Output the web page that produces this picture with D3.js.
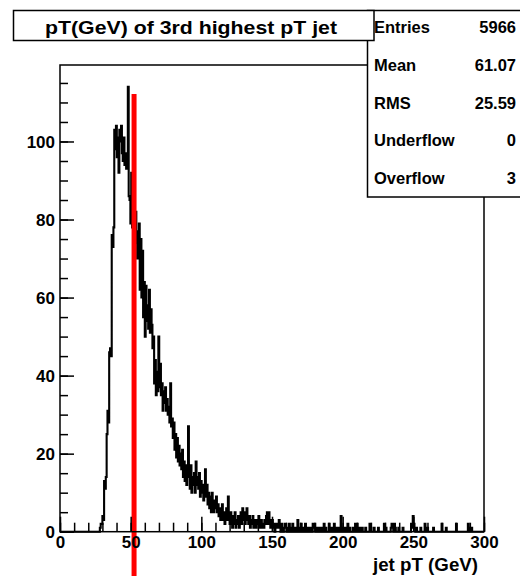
<!DOCTYPE html>
<html>
<head>
<meta charset="utf-8">
<script src="https://cdn.jsdelivr.net/npm/d3@7"></script>
<style>
  html, body { margin: 0; padding: 0; background: #fff; }
  svg { display: block; }
  text { font-family: "Liberation Sans", Arial, Helvetica, sans-serif; font-weight: bold; fill: #000; }
</style>
</head>
<body>
<svg id="chart" width="520" height="576"></svg>
<script>
// Histogram of the 3rd highest jet pT: 500 bins from 0 to 300 GeV
const xRange = [0, 300];
const binCounts = [
  0,0,0,0,0,0,0,0,0,0,
  0,0,0,0,0,0,0,0,0,0,
  0,0,0,0,0,0,0,0,0,0,
  0,0,0,0,0,0,0,0,0,0,
  0,0,0,0,0,0,0,1,2,2,
  4,3,13,11,14,25,31,28,46,47,
  45,76,73,78,103,98,104,96,101,92,
  103,100,104,97,95,101,94,97,93,96,
  114,86,85,79,92,78,84,80,75,82,
  74,70,77,79,62,75,60,72,55,64,
  50,63,54,58,52,62,51,57,53,47,
  50,38,44,35,41,36,50,37,43,35,
  38,31,36,33,37,31,34,30,32,28,
  38,27,29,24,28,21,25,19,24,18,
  22,17,20,16,21,14,18,13,17,12,
  16,27,14,11,17,10,14,12,15,10,
  18,12,14,11,15,9,13,10,12,8,
  11,16,9,12,7,10,6,9,5,10,
  7,5,8,6,9,5,7,4,6,3,
  5,7,3,5,2,4,6,3,9,4,
  2,5,3,1,4,2,5,1,3,2,
  4,1,3,5,2,6,3,5,2,4,
  6,3,2,4,1,3,2,4,1,3,
  2,1,3,2,4,1,2,3,1,2,
  1,3,2,4,5,2,5,3,1,2,
  3,1,2,0,1,2,1,2,3,1,
  0,2,1,0,1,2,1,0,1,0,
  2,1,0,1,2,0,1,0,1,0,
  3,1,0,1,2,0,1,1,0,2,
  0,1,0,1,0,0,1,0,2,1,
  2,0,1,0,0,1,0,0,1,0,
  0,2,0,1,0,0,0,2,1,0,
  1,0,0,2,0,1,0,0,1,0,
  0,4,0,1,0,0,1,0,0,2,
  0,1,0,0,0,1,0,0,2,0,
  2,0,0,1,0,0,1,0,0,0,
  1,0,0,0,0,2,1,0,0,0,
  1,0,0,0,0,1,0,0,0,0,
  0,0,2,0,1,0,0,0,0,0,
  1,2,1,0,2,1,0,0,0,1,
  0,0,0,0,1,0,0,0,0,0,
  0,0,0,0,2,1,4,2,1,0,
  1,0,0,0,0,1,0,0,0,0,
  2,1,0,1,0,0,0,0,0,0,
  1,0,0,0,0,0,0,0,0,0,
  2,0,0,0,0,1,0,0,0,0,
  0,0,0,0,0,0,0,2,0,0,
  0,0,0,0,0,0,0,0,0,0,
  0,2,1,0,0,1,0,0,0,0,
  0,0,0,0,0,0,0,0,0,0
];

// Selection cut on jet pT and the height of its marker
const cutValue = 52.4;
const cutTop = 112.2;

const yMax = 119.6;
const xMajorTicks = [0, 50, 100, 150, 200, 250, 300];
const xMinorTicks = d3.range(0, 301, 10);
const yMajorTicks = [0, 20, 40, 60, 80, 100];
const yMinorTicks = d3.range(0, 116, 5);

const titleText = "pT(GeV) of 3rd highest pT jet";
const xAxisTitle = "jet pT (GeV)";
const statNames = ["Entries", "Mean", "RMS", "Underflow", "Overflow"];
const statValues = ["5966", "61.07", "25.59", "0", "3"];

const svg = d3.select("#chart");
const W = 520, H = 576;
const plot = { left: 60, right: 484, top: 65, bottom: 531.7 };

const x = d3.scaleLinear().domain(xRange).range([plot.left, plot.right]);
const y = d3.scaleLinear().domain([0, yMax]).range([plot.bottom, plot.top]);

const binWidth = (xRange[1] - xRange[0]) / binCounts.length;
const steps = binCounts.map((c, i) => ({ lo: xRange[0] + i * binWidth, c }));
steps.push({ lo: xRange[1], c: binCounts[binCounts.length - 1] });

// Histogram outline
svg.append("path")
  .datum(steps)
  .attr("fill", "none")
  .attr("stroke", "#000")
  .attr("stroke-width", 2.1)
  .attr("stroke-linejoin", "miter")
  .attr("d", d3.line().x(d => x(d.lo)).y(d => y(d.c)).curve(d3.curveStepAfter));

// Cut marker
svg.append("line")
  .attr("x1", x(cutValue)).attr("x2", x(cutValue))
  .attr("y1", y(cutTop)).attr("y2", H)
  .attr("stroke", "#ff0000")
  .attr("stroke-width", 5);

// Frame
svg.append("rect")
  .attr("x", plot.left).attr("y", plot.top)
  .attr("width", plot.right - plot.left).attr("height", plot.bottom - plot.top)
  .attr("fill", "none").attr("stroke", "#000").attr("stroke-width", 1.5);

// Y axis: ticks inside the frame
const yMinorAxis = d3.axisLeft(y).tickValues(yMinorTicks).tickSizeInner(-8).tickSizeOuter(0).tickFormat("");
const yAxis = d3.axisLeft(y).tickValues(yMajorTicks).tickSizeInner(-14).tickSizeOuter(0).tickPadding(5);
[yMinorAxis, yAxis].forEach(ax => {
  const g = svg.append("g").attr("transform", `translate(${plot.left},0)`).call(ax);
  g.select(".domain").remove();
  g.selectAll("line").attr("stroke", "#000").attr("stroke-width", 1.5);
  g.selectAll("text").attr("font-size", 17).attr("font-family", null).attr("dy", "0.36em");
});

// X axis: ticks inside the frame
const xMinorAxis = d3.axisBottom(x).tickValues(xMinorTicks).tickSizeInner(-9).tickSizeOuter(0).tickFormat("");
const xAxis = d3.axisBottom(x).tickValues(xMajorTicks).tickSizeInner(-15).tickSizeOuter(0).tickPadding(4);
[xMinorAxis, xAxis].forEach(ax => {
  const g = svg.append("g").attr("transform", `translate(0,${plot.bottom})`).call(ax);
  g.select(".domain").remove();
  g.selectAll("line").attr("stroke", "#000").attr("stroke-width", 1.5);
  g.selectAll("text").attr("font-size", 17).attr("font-family", null);
});

svg.append("text")
  .attr("x", 478).attr("y", 571)
  .attr("text-anchor", "end")
  .attr("font-size", 17.5)
  .attr("textLength", 105).attr("lengthAdjust", "spacingAndGlyphs")
  .text(xAxisTitle);

// Statistics box
svg.append("rect")
  .attr("x", 367.5).attr("y", 10.5).attr("width", 170).attr("height", 186.5)
  .attr("fill", "#fff").attr("stroke", "#000").attr("stroke-width", 1.5);
const rowY = d3.scalePoint().domain(statNames).range([33, 184]);
svg.selectAll(".statName").data(statNames).join("text")
  .attr("class", "statName")
  .attr("x", 374).attr("y", d => rowY(d))
  .attr("font-size", 16.5)
  .text(d => d);
svg.selectAll(".statVal").data(statValues).join("text")
  .attr("class", "statVal")
  .attr("x", 516).attr("y", (d, i) => rowY(statNames[i]))
  .attr("text-anchor", "end")
  .attr("font-size", 16.5)
  .text(d => d);

// Title box
svg.append("rect")
  .attr("x", 13.5).attr("y", 10.5).attr("width", 360.5).attr("height", 30)
  .attr("fill", "#fff").attr("stroke", "#000").attr("stroke-width", 1.5);
svg.append("text")
  .attr("x", 191).attr("y", 33.5)
  .attr("text-anchor", "middle")
  .attr("font-size", 17.5)
  .attr("textLength", 292).attr("lengthAdjust", "spacingAndGlyphs")
  .text(titleText);
</script>
</body>
</html>
